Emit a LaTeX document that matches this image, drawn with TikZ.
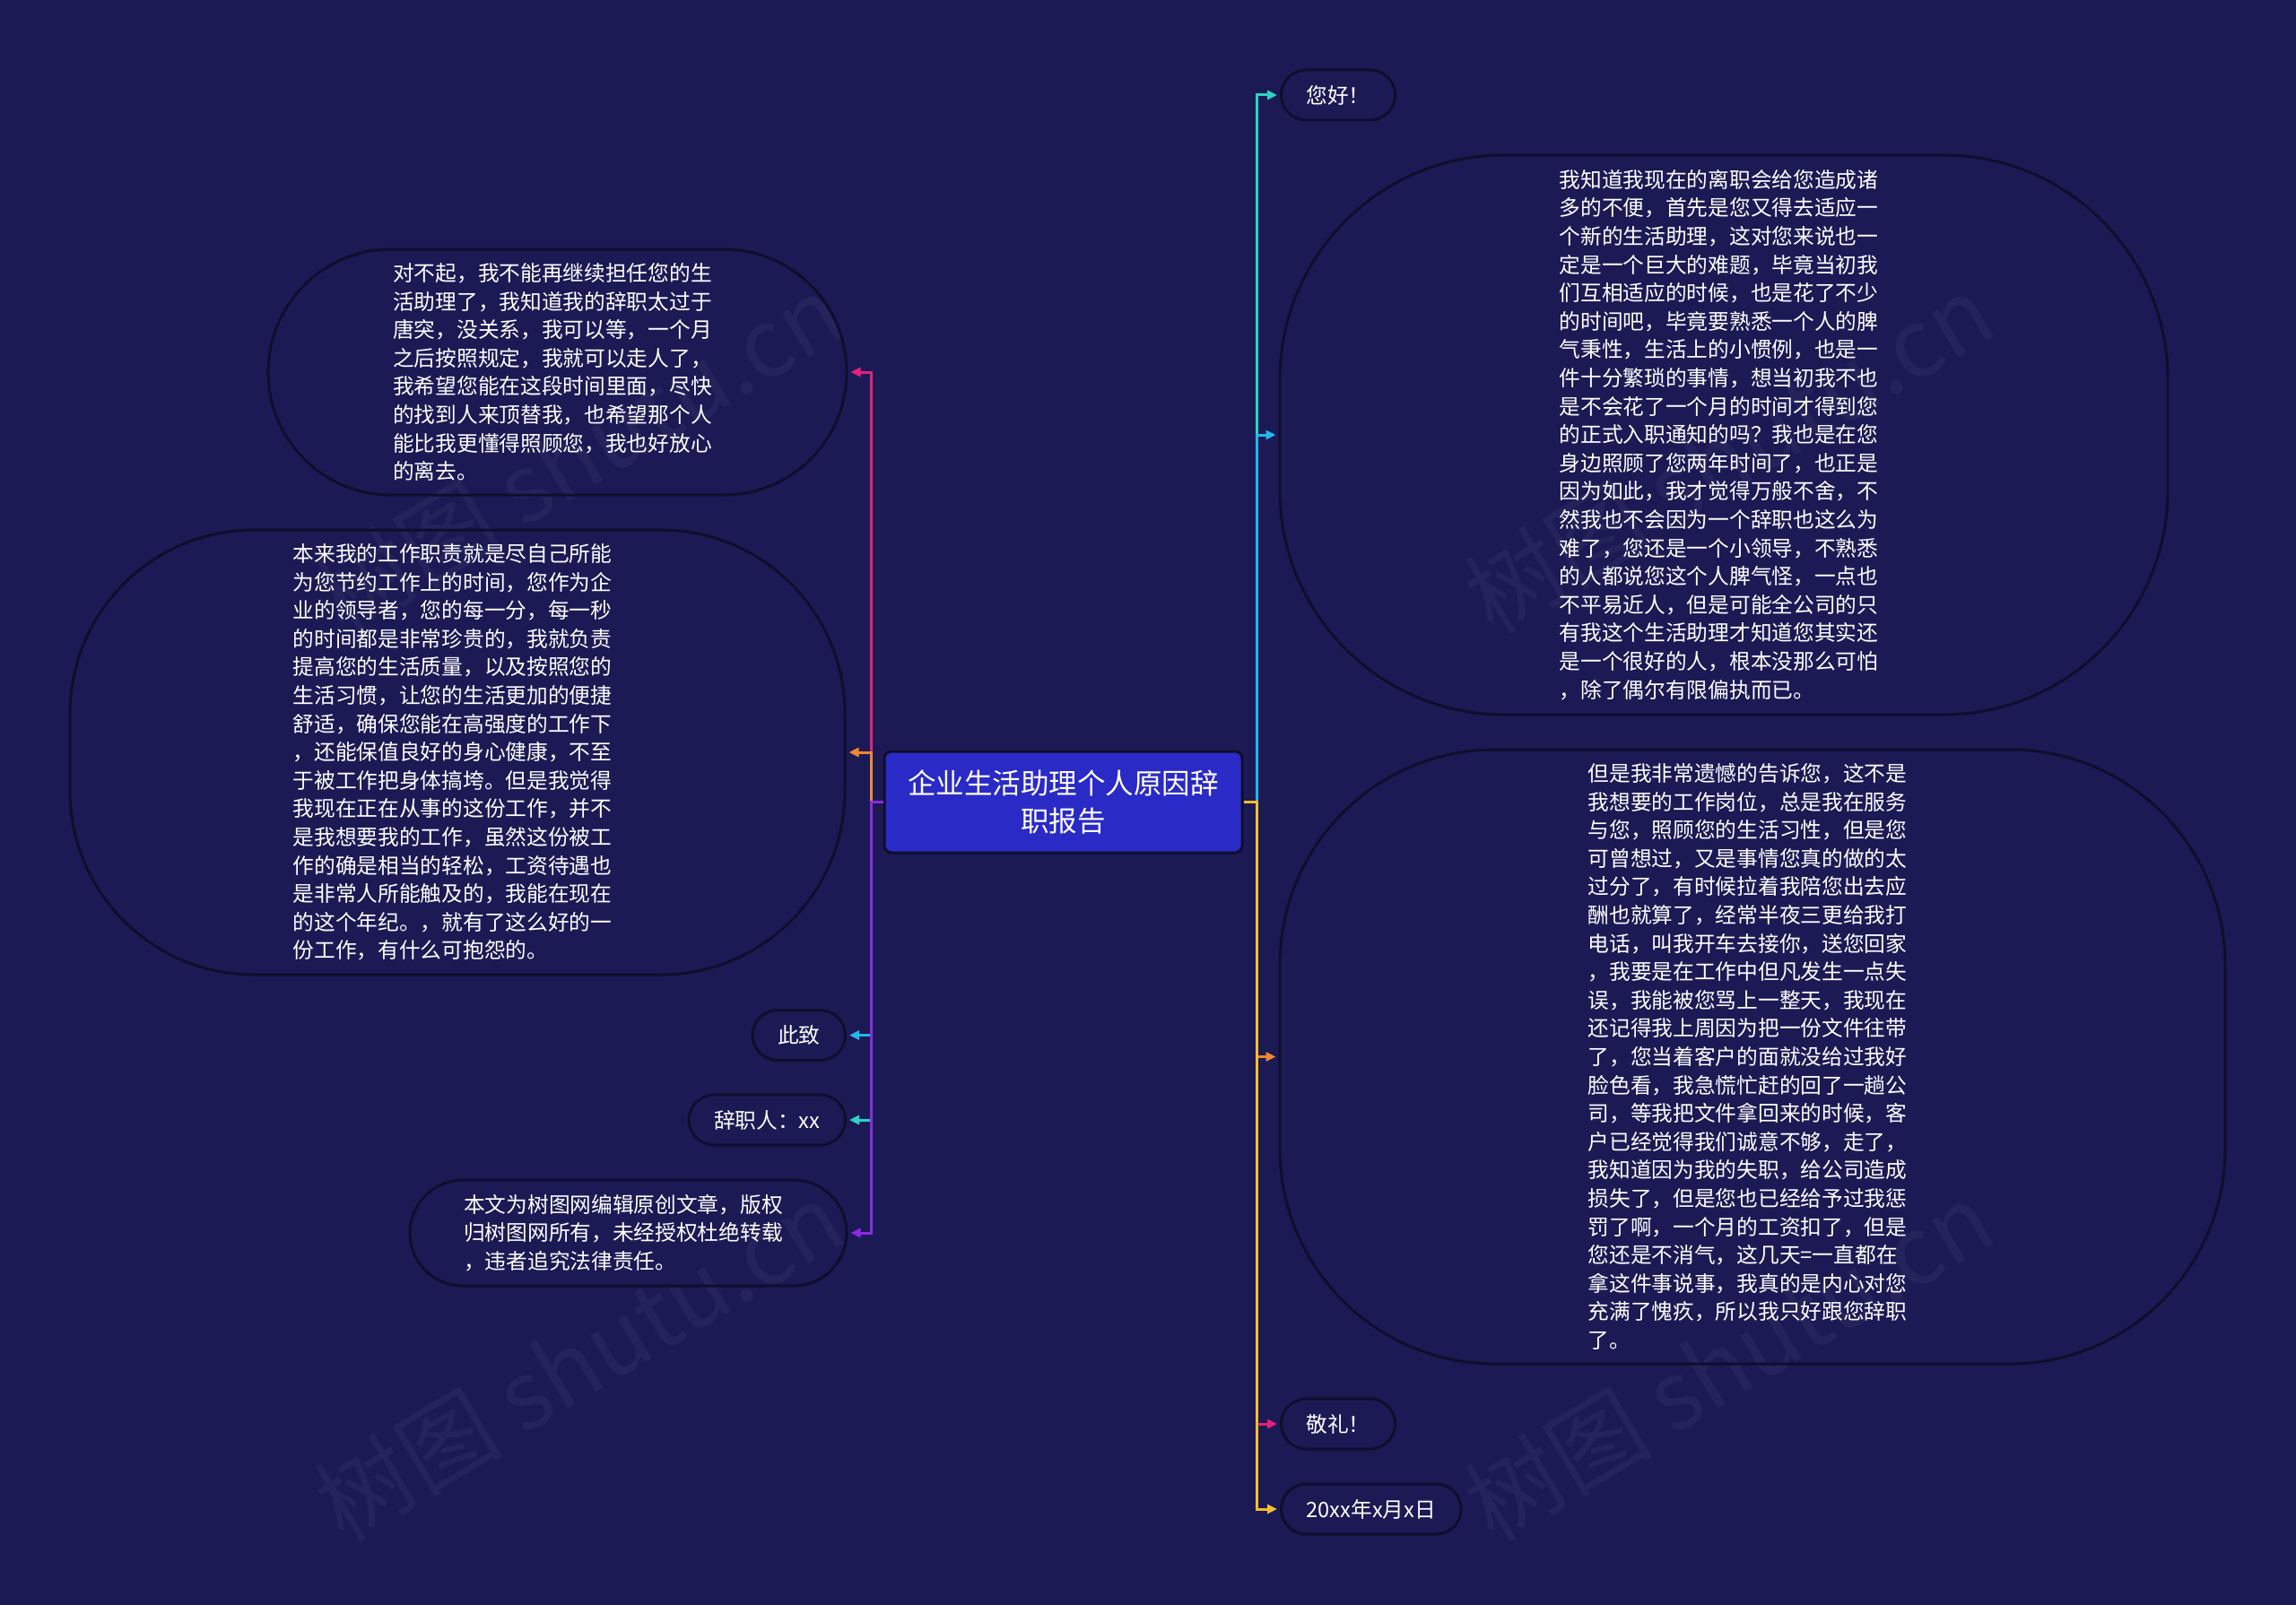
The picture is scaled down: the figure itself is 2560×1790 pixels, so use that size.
\documentclass[tikz,border=0pt]{standalone}
\usepackage{fontspec}
\setmainfont{Noto Sans CJK SC}
\usetikzlibrary{arrows.meta}
\definecolor{bg}{HTML}{1B1A55}
\definecolor{edge}{HTML}{0E0E2C}
\definecolor{cfill}{HTML}{2A2AC6}
\definecolor{cteal}{HTML}{2DD4C2}
\definecolor{ccyan}{HTML}{27B5EC}
\definecolor{corange}{HTML}{F0872E}
\definecolor{cpink}{HTML}{E3217C}
\definecolor{cyellow}{HTML}{F2BE2E}
\definecolor{cpurple}{HTML}{8A2BE2}
\begin{document}
\begin{tikzpicture}[x=1pt,y=-1pt,
  txtfont/.style={font=\fontsize{23.7pt}{31.6pt}\selectfont},
  bubble/.style={draw=edge, line width=3pt, inner sep=0pt},
  btext/.style={text=white, align=left, inner sep=0pt, txtfont},
  pill/.style={draw=edge, line width=3pt, text=white, rounded corners=28pt, minimum height=56pt, inner xsep=28pt, inner ysep=0pt, txtfont},
  conn/.style={line width=3pt, -{Triangle[length=11pt,width=10pt]}, shorten >=3pt},
  wmark/.style={rotate=31, text=white, opacity=0.045, font=\fontsize{105pt}{105pt}\selectfont}
  ]
\fill[bg] (0,0) rectangle (2560,1790);
\useasboundingbox (0,0) rectangle (2560,1790);

% watermarks
\node[wmark] (wm1) at (645,506) {树图 shutu.cn};
\node[wmark] (wm2) at (1927,506) {树图 shutu.cn};
\node[wmark] (wm3) at (645,1518) {树图 shutu.cn};
\node[wmark] (wm4) at (1927,1518) {树图 shutu.cn};

% center
\node[draw=edge, line width=3pt, fill=cfill, rounded corners=8pt, minimum width=399pt, minimum height=113pt, text=white, align=center, inner sep=0pt, font=\fontsize{31.5pt}{42pt}\selectfont] (c) at (1185.5,894.5) {企业生活助理个人原因辞\\职报告};

% right side
\node[pill, anchor=west] (hello) at (1427,106) {您好！};
\node[bubble, minimum width=990pt, minimum height=624pt, rounded corners=250pt] (r1) at (1922,485) {};
\node[btext] (r1t) at ([xshift=-5.5pt]r1.center) {我知道我现在的离职会给您造成诸\\多的不便，首先是您又得去适应一\\个新的生活助理，这对您来说也一\\定是一个巨大的难题，毕竟当初我\\们互相适应的时候，也是花了不少\\的时间吧，毕竟要熟悉一个人的脾\\气秉性，生活上的小惯例，也是一\\件十分繁琐的事情，想当初我不也\\是不会花了一个月的时间才得到您\\的正式入职通知的吗？我也是在您\\身边照顾了您两年时间了，也正是\\因为如此，我才觉得万般不舍，不\\然我也不会因为一个辞职也这么为\\难了，您还是一个小领导，不熟悉\\的人都说您这个人脾气怪，一点也\\不平易近人，但是可能全公司的只\\有我这个生活助理才知道您其实还\\是一个很好的人，根本没那么可怕\\，除了偶尔有限偏执而已。};
\node[bubble, minimum width=1054pt, minimum height=685pt, rounded corners=240pt] (r2) at (1954,1178.5) {};
\node[btext] (r2t) at ([xshift=-5.5pt]r2.center) {但是我非常遗憾的告诉您，这不是\\我想要的工作岗位，总是我在服务\\与您，照顾您的生活习性，但是您\\可曾想过，又是事情您真的做的太\\过分了，有时候拉着我陪您出去应\\酬也就算了，经常半夜三更给我打\\电话，叫我开车去接你，送您回家\\，我要是在工作中但凡发生一点失\\误，我能被您骂上一整天，我现在\\还记得我上周因为把一份文件往带\\了，您当着客户的面就没给过我好\\脸色看，我急慌忙赶的回了一趟公\\司，等我把文件拿回来的时候，客\\户已经觉得我们诚意不够，走了，\\我知道因为我的失职，给公司造成\\损失了，但是您也已经给予过我惩\\罚了啊，一个月的工资扣了，但是\\您还是不消气，这几天=一直都在\\拿这件事说事，我真的是内心对您\\充满了愧疚，所以我只好跟您辞职\\了。};
\node[pill, anchor=west] (salute) at (1427,1588) {敬礼！};
\node[pill, anchor=west] (date) at (1427,1683) {20xx年x月x日};

% left side
\node[bubble, minimum width=645pt, minimum height=274pt, rounded corners=137pt] (l1) at (621.5,415) {};
\node[btext] (l1t) at ([xshift=-5.5pt]l1.center) {对不起，我不能再继续担任您的生\\活助理了，我知道我的辞职太过于\\唐突，没关系，我可以等，一个月\\之后按照规定，我就可以走人了，\\我希望您能在这段时间里面，尽快\\的找到人来顶替我，也希望那个人\\能比我更懂得照顾您，我也好放心\\的离去。};
\node[bubble, minimum width=864pt, minimum height=496pt, rounded corners=205pt] (l2) at (510,839) {};
\node[btext] (l2t) at ([xshift=-5.5pt]l2.center) {本来我的工作职责就是尽自己所能\\为您节约工作上的时间，您作为企\\业的领导者，您的每一分，每一秒\\的时间都是非常珍贵的，我就负责\\提高您的生活质量，以及按照您的\\生活习惯，让您的生活更加的便捷\\舒适，确保您能在高强度的工作下\\，还能保值良好的身心健康，不至\\于被工作把身体搞垮。但是我觉得\\我现在正在从事的这份工作，并不\\是我想要我的工作，虽然这份被工\\作的确是相当的轻松，工资待遇也\\是非常人所能触及的，我能在现在\\的这个年纪。，就有了这么好的一\\份工作，有什么可抱怨的。};
\node[pill, anchor=east] (zhici) at (944,1154.5) {此致};
\node[pill, anchor=east] (signer) at (944,1249) {辞职人：xx};
\node[bubble, minimum width=487pt, minimum height=118pt, rounded corners=59pt] (copy) at (700.5,1375) {};
\node[btext] (copyt) at ([xshift=-5.5pt]copy.center) {本文为树图网编辑原创文章，版权\\归树图网所有，未经授权杜绝转载\\，违者追究法律责任。};

% junctions
\coordinate (jl) at (971,894.5);
\coordinate (jr) at (1401,894.5);

% connectors right
\draw[conn, cteal] (c.east) -- (jr) |- (hello.west);
\draw[conn, ccyan] (c.east) -- (jr) |- (r1.west);
\draw[conn, cpink] (c.east) -- (jr) |- (salute.west);
\draw[conn, corange] (c.east) -- (jr) |- (r2.west);
\draw[conn, cyellow] (c.east) -- (jr) |- (date.west);

% connectors left
\draw[conn, cpink] (c.west) -- (jl) |- (l1.east);
\draw[conn, corange] (c.west) -- (jl) |- (l2.east);
\draw[conn, ccyan] (c.west) -- (jl) |- (zhici.east);
\draw[conn, cteal] (c.west) -- (jl) |- (signer.east);
\draw[conn, cpurple] (c.west) -- (jl) |- (copy.east);
\end{tikzpicture}
\end{document}
